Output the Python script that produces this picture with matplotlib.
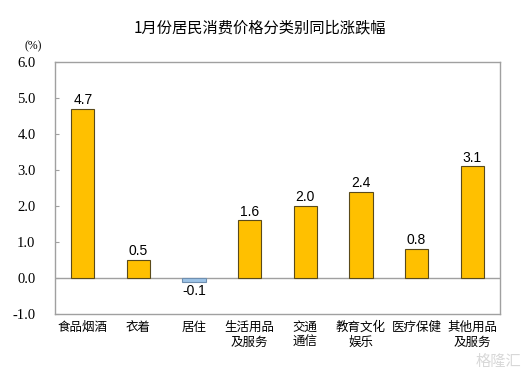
import matplotlib
matplotlib.use("Agg")
import matplotlib.pyplot as plt

plt.rcParams['font.family'] = ['Noto Sans CJK SC', 'DejaVu Sans']

categories = ["食品烟酒", "衣着", "居住", "生活用品\n及服务", "交通\n通信", "教育文化\n娱乐", "医疗保健", "其他用品\n及服务"]
values = [4.7, 0.5, -0.1, 1.6, 2.0, 2.4, 0.8, 3.1]
yticks = [-1.0, 0.0, 1.0, 2.0, 3.0, 4.0, 5.0, 6.0]
title = "1月份居民消费价格分类别同比涨跌幅"

fig = plt.figure(figsize=(5.29, 3.78), dpi=100)
ax = fig.add_axes([55/529, 1-314/378, 445/529, 252/378])

x = list(range(len(categories)))
colors = ["#FFC000" if v >= 0 else "#9DC3E6" for v in values]
edges = ["#5a4a1a" if v >= 0 else "#6f8fb0" for v in values]
ax.bar(x, values, width=0.42, color=colors, edgecolor=edges, linewidth=0.8, zorder=3)

ax.set_xlim(-0.5, len(categories)-0.5)
ax.set_ylim(-1.0, 6.0)
ax.axhline(0, color="#a0a0a0", linewidth=1.0, zorder=2)

for xi, v in zip(x, values):
    if v >= 0:
        ax.text(xi, v + 0.05, f"{v:.1f}", ha="center", va="bottom", fontsize=10,
                family=["Liberation Sans", "DejaVu Sans"], color="black")
    else:
        ax.text(xi, v - 0.08, f"{v:.1f}", ha="center", va="top", fontsize=10,
                family=["Liberation Sans", "DejaVu Sans"], color="black")

ax.set_yticks(yticks)
ax.set_yticklabels([f"{t:.1f}" for t in yticks])
for lab in ax.get_yticklabels():
    lab.set_fontfamily(["Liberation Serif", "DejaVu Serif"])
    lab.set_fontsize(10.5)
ax.tick_params(axis="y", direction="in", length=3, color="#a0a0a0", pad=14)
ax.set_xticks(x)
ax.set_xticklabels(categories, fontsize=9, linespacing=1.2)
ax.tick_params(axis="x", length=0, pad=5)

for s in ax.spines.values():
    s.set_color("#a0a0a0")
    s.set_linewidth(1.0)

fig.text(260/529, 1-28/378, title, ha="center", va="center", fontsize=11)
fig.text(33/529, 1-46/378, "(%)", ha="center", va="center", fontsize=8.5,
         family=["Liberation Serif", "DejaVu Serif"])
fig.text(0.985, 0.02, "格隆汇", ha="right", va="bottom", fontsize=11, color="#d8d8d8")

fig.savefig("out.png", dpi=100)
